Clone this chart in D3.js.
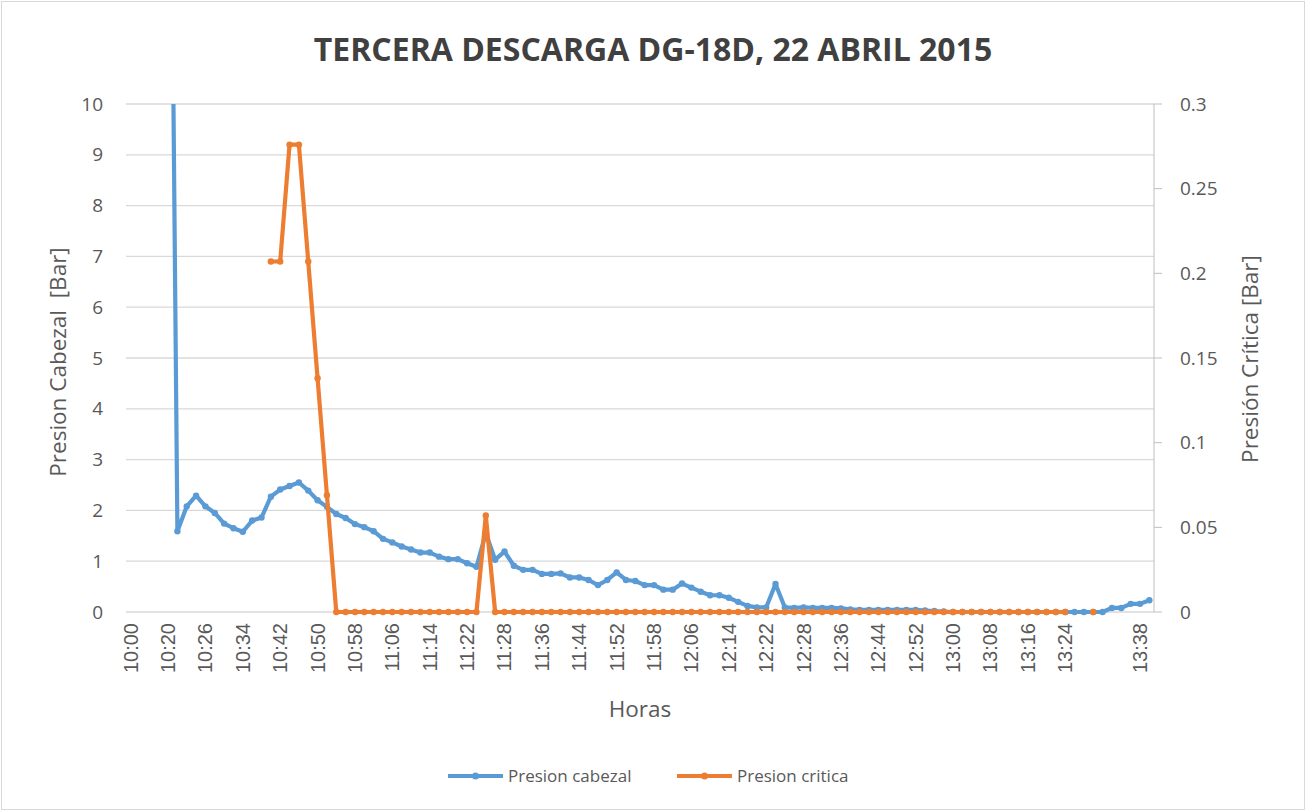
<!DOCTYPE html>
<html><head><meta charset="utf-8">
<script src="https://cdn.jsdelivr.net/npm/d3@7"></script>
<style>body{margin:0;background:#fff}</style>
</head><body>
<svg id="chart" width="1307" height="812"></svg>
<script>
// ---- data ----
const title = "TERCERA DESCARGA DG-18D, 22 ABRIL 2015";
// category axis: 110 readings, a time label on every 4th reading
const tickLabels = ["10:00","10:20","10:26","10:34","10:42","10:50","10:58","11:06","11:14","11:22",
  "11:28","11:36","11:44","11:52","11:58","12:06","12:14","12:22","12:28","12:36","12:44","12:52",
  "13:00","13:08","13:16","13:24","","13:38"];
const categoryCount = 110;
const leftTicks = [0,1,2,3,4,5,6,7,8,9,10];
const rightTicks = [0,0.05,0.1,0.15,0.2,0.25,0.3];
const rightTickText = ["0","0.05","0.1","0.15","0.2","0.25","0.3"];

const presionCabezal = [
  null,null,null,null,21.5,1.59,2.08,2.29,2.08,1.95,
  1.74,1.65,1.58,1.80,1.86,2.27,2.41,2.48,2.55,2.39,
  2.20,2.07,1.93,1.85,1.73,1.67,1.59,1.44,1.37,1.29,
  1.23,1.17,1.17,1.09,1.04,1.04,0.96,0.89,1.55,1.03,
  1.19,0.91,0.83,0.83,0.75,0.75,0.76,0.68,0.68,0.63,
  0.53,0.63,0.78,0.63,0.61,0.53,0.53,0.44,0.44,0.56,
  0.48,0.40,0.33,0.33,0.28,0.20,0.12,0.09,0.09,0.55,
  0.09,0.08,0.09,0.08,0.08,0.08,0.07,0.05,0.04,0.04,
  0.04,0.04,0.04,0.04,0.04,0.03,0.02,0.01,0,0,
  0,0,0,0,0,0,0,0,0,0,
  0,0,0,0,0,0.08,0.08,0.16,0.16,0.23
];
const presionCritica = [
  null,null,null,null,null,null,null,null,null,null,
  null,null,null,null,null,0.207,0.207,0.276,0.276,0.207,
  0.138,0.069,0,0,0,0,0,0,0,0,
  0,0,0,0,0,0,0,0,0.057,0,
  0,0,0,0,0,0,0,0,0,0,
  0,0,0,0,0,0,0,0,0,0,
  0,0,0,0,0,0,0,0,0,0,
  0,0,0,0,0,0,0,0,0,0,
  0,0,0,0,0,0,0,0,0,0,
  0,0,0,0,0,0,0,0,0,0,
  0,null,null,0,null,null,null,null,null,null
];
const seriesNames = ["Presion cabezal","Presion critica"];
const colors = ["#5b9bd5","#ed7d31"];

// ---- layout ----
const svg = d3.select("#chart");
const W = 1307, H = 812;
const L = 126, R = 1154, T = 104, B = 612;
const textColor = "#595959";
const font = "'Open Sans', sans-serif";

svg.append("rect").attr("x",1.5).attr("y",1.5).attr("width",W-4).attr("height",H-4)
  .attr("fill","#fff").attr("stroke","#d9d9d9");

const x = d3.scaleBand().domain(d3.range(categoryCount)).range([L,R]);
const cx = i => x(i) + x.bandwidth()/2;
const yL = d3.scaleLinear().domain([0,10]).range([B,T]);
const yR = d3.scaleLinear().domain([0,0.3]).range([B,T]);

// gridlines
svg.append("g").selectAll("line").data(leftTicks).join("line")
  .attr("x1",L).attr("x2",R).attr("y1",d=>yL(d)).attr("y2",d=>yL(d))
  .attr("stroke","#d9d9d9").attr("stroke-width",1.3);

// left tick labels
svg.append("g").selectAll("text").data(leftTicks).join("text")
  .attr("x",103).attr("y",d=>yL(d)).attr("dy","0.35em").attr("text-anchor","end")
  .attr("font-family",font).attr("font-size",19).attr("fill",textColor).text(d=>d);

// right axis
const gR = svg.append("g");
gR.append("line").attr("x1",R).attr("x2",R).attr("y1",T).attr("y2",B).attr("stroke","#bfbfbf");
gR.selectAll("line.t").data(rightTicks).join("line").attr("class","t")
  .attr("x1",R).attr("x2",R+8).attr("y1",d=>yR(d)).attr("y2",d=>yR(d)).attr("stroke","#bfbfbf");
gR.selectAll("text").data(rightTicks).join("text")
  .attr("x",1180).attr("y",d=>yR(d)).attr("dy","0.35em")
  .attr("font-family",font).attr("font-size",19).attr("fill",textColor)
  .text((d,i)=>rightTickText[i]);

// x tick labels
svg.append("g").selectAll("text").data(tickLabels).join("text")
  .attr("transform",(d,i)=>`translate(${cx(i*4)},623) rotate(-90)`)
  .attr("text-anchor","end").attr("dy","0.35em")
  .attr("font-family","'Liberation Sans', Arial, sans-serif").attr("font-size",20)
  .attr("fill",textColor).text(d=>d);

// axis titles
svg.append("text").attr("x",640).attr("y",717).attr("text-anchor","middle")
  .attr("font-family",font).attr("font-size",22.5).attr("fill",textColor).text("Horas");
svg.append("text").attr("transform","translate(58,362) rotate(-90)").attr("text-anchor","middle")
  .attr("dy","0.35em").attr("font-family",font).attr("font-size",22.5).attr("fill",textColor)
  .attr("xml:space","preserve").text("Presion Cabezal  [Bar]");
svg.append("text").attr("transform","translate(1250,359) rotate(-90)").attr("text-anchor","middle")
  .attr("dy","0.35em").attr("font-family",font).attr("font-size",22.5).attr("fill",textColor)
  .text("Presión Crítica [Bar]");

// title
svg.append("text").attr("x",653).attr("y",61).attr("text-anchor","middle")
  .attr("font-family",font).attr("font-weight","bold").attr("font-size",32).attr("fill","#404040")
  .text(title);

// top clip for the out-of-range first value
svg.append("defs").append("clipPath").attr("id","topclip")
  .append("rect").attr("x",L).attr("y",T).attr("width",R-L+6).attr("height",B-T+12);

function drawSeries(values, scale, color){
  const g = svg.append("g").attr("clip-path","url(#topclip)");
  const line = d3.line().defined(d=>d!=null).x((d,i)=>cx(i)).y(d=>scale(d));
  g.append("path").datum(values).attr("d",line).attr("fill","none")
    .attr("stroke",color).attr("stroke-width",4.2).attr("stroke-linejoin","round").attr("stroke-linecap","round");
  g.selectAll("circle").data(values.map((v,i)=>({v,i})).filter(d=>d.v!=null)).join("circle")
    .attr("cx",d=>cx(d.i)).attr("cy",d=>scale(d.v)).attr("r",3.2).attr("fill",color);
}
drawSeries(presionCabezal, yL, colors[0]);
drawSeries(presionCritica, yR, colors[1]);

// legend
const legend = [{name:seriesNames[0],color:colors[0],x:448},{name:seriesNames[1],color:colors[1],x:677}];
const lg = svg.append("g").selectAll("g").data(legend).join("g")
  .attr("transform",d=>`translate(${d.x},776)`);
lg.append("line").attr("x1",0).attr("x2",55).attr("y1",0).attr("y2",0)
  .attr("stroke",d=>d.color).attr("stroke-width",4.2);
lg.append("circle").attr("cx",27.5).attr("cy",0).attr("r",3.5).attr("fill",d=>d.color);
lg.append("text").attr("x",60).attr("y",0).attr("dy","0.35em")
  .attr("font-family",font).attr("font-size",17).attr("fill",textColor).text(d=>d.name);
</script>
</body></html>
